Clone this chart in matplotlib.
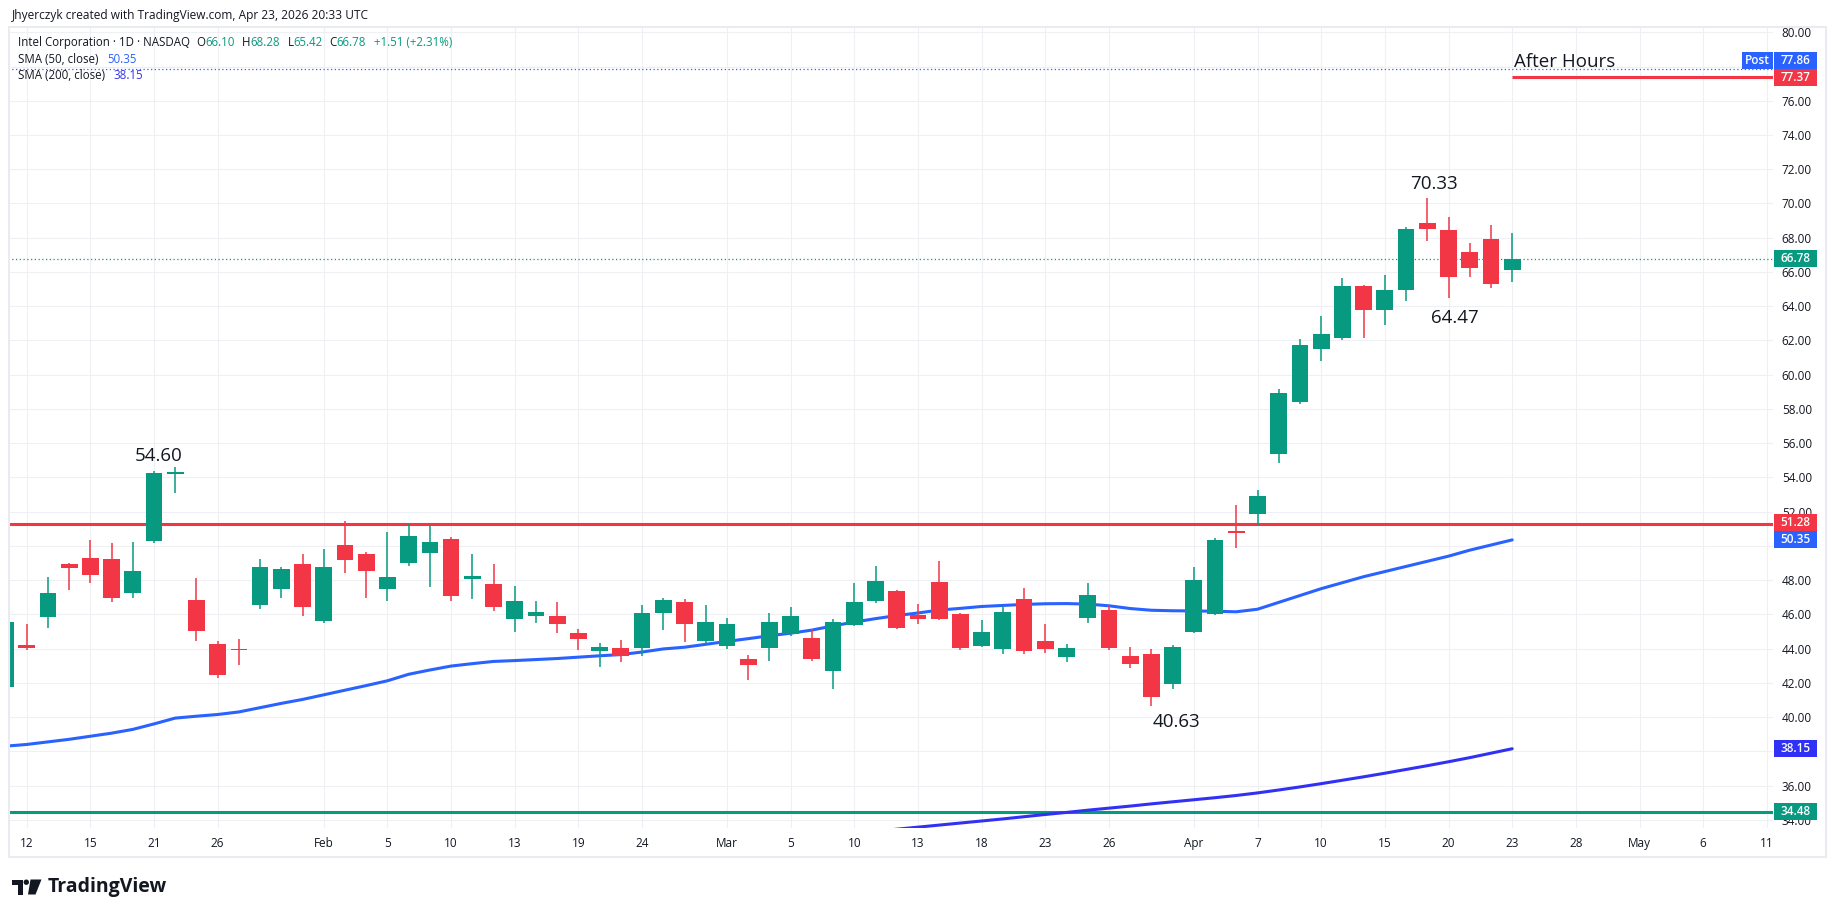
import numpy as np
import pandas as pd
import matplotlib
matplotlib.use("Agg")
import matplotlib.pyplot as plt
from matplotlib.patches import Rectangle, Circle, Polygon

plt.rcParams['font.family'] = ['Open Sans', 'DejaVu Sans']

W, H = 1835, 917
VERDE = '#089981'
ROJO = '#f23645'
AZUL = '#2962ff'
AZUL200 = '#3131f5'
TEXTO = '#131722'

# Calendario (NASDAQ, 2026)
inicio = '2026-01-09'
fin_eje = '2026-05-11'
festivos = ['2026-01-19', '2026-02-16', '2026-04-03']

# Velas diarias 9 ene -> 23 abr
open_ = [41.76, 44.23, 45.82, 48.96, 49.31, 49.25, 47.22, 50.26, 54.20, 46.85,
         44.28, 43.95, 46.52, 47.50, 48.96, 45.59, 50.07, 49.54, 47.50, 49.02,
         49.56, 50.42, 48.04, 47.79, 45.71, 45.88, 45.92, 44.93, 43.84, 44.05,
         44.01, 46.06, 46.74, 44.42, 44.13, 43.41, 44.01, 44.83, 44.64, 42.67,
         45.36, 46.76, 47.38, 45.94, 47.91, 46.04, 44.13, 43.95, 46.91, 44.46,
         43.49, 45.77, 46.27, 43.58, 43.70, 41.91, 44.95, 46.00, 50.89, 51.84,
         55.34, 58.38, 61.48, 62.12, 65.20, 63.75, 64.92, 68.88, 68.47, 67.18,
         67.94, 66.10]
high = [45.65, 45.45, 48.20, 48.98, 50.36, 50.18, 50.24, 54.39, 54.60, 48.14,
        44.46, 44.54, 49.25, 48.78, 49.54, 49.83, 51.47, 49.66, 50.83, 51.29,
        51.20, 50.54, 49.54, 48.96, 47.67, 46.80, 46.74, 45.16, 44.34, 44.52,
        46.56, 46.97, 46.91, 46.56, 45.80, 43.64, 46.09, 46.45, 45.16, 45.75,
        47.85, 48.84, 47.44, 46.62, 49.13, 46.06, 45.69, 46.50, 47.56, 45.45,
        44.29, 47.85, 46.56, 44.11, 43.99, 44.23, 48.78, 50.48, 52.40, 53.28,
        59.18, 62.10, 63.40, 65.66, 65.25, 65.84, 68.64, 70.33, 69.23, 67.71,
        68.76, 68.28]
low = [41.70, 43.90, 45.22, 47.40, 47.81, 46.70, 46.97, 50.15, 53.06, 44.42,
       42.26, 43.06, 46.33, 46.97, 45.92, 45.47, 48.43, 46.97, 46.80, 48.84,
       47.58, 46.76, 46.87, 46.17, 44.95, 45.47, 44.89, 43.90, 42.90, 43.19,
       43.55, 45.06, 44.36, 44.25, 43.95, 42.14, 43.25, 44.71, 43.25, 41.62,
       45.30, 46.64, 45.15, 45.42, 45.68, 43.90, 44.07, 43.66, 43.66, 43.72,
       43.19, 45.47, 43.90, 42.84, 40.63, 41.62, 44.90, 45.95, 49.85, 51.22,
       54.82, 58.30, 60.78, 62.05, 62.12, 62.88, 64.28, 67.79, 64.47, 65.68,
       65.04, 65.42]
close = [45.53, 44.01, 47.26, 48.69, 48.28, 46.93, 48.55, 54.27, 54.33, 45.00,
         42.43, 43.92, 48.78, 48.66, 46.41, 48.78, 49.19, 48.55, 48.20, 50.59,
         50.24, 47.05, 48.26, 46.41, 46.80, 46.16, 45.42, 44.54, 44.11, 43.55,
         46.09, 46.86, 45.42, 45.57, 45.45, 43.02, 45.57, 45.92, 43.37, 45.57,
         46.74, 47.97, 45.18, 45.71, 45.71, 44.01, 44.99, 46.16, 43.84, 43.95,
         44.05, 47.15, 44.01, 43.08, 41.15, 44.11, 48.02, 50.36, 50.73, 52.93,
         58.93, 61.75, 62.39, 65.20, 63.75, 64.96, 68.52, 68.49, 65.68, 66.21,
         65.27, 66.78]

# Medias moviles
sma50 = [38.30, 38.40, 38.55, 38.70, 38.88, 39.06, 39.28, 39.60, 39.94, 40.05,
         40.15, 40.30, 40.55, 40.80, 41.03, 41.30, 41.57, 41.84, 42.12, 42.50,
         42.75, 42.98, 43.12, 43.25, 43.30, 43.36, 43.42, 43.50, 43.58, 43.65,
         43.80, 43.98, 44.08, 44.25, 44.42, 44.58, 44.75, 44.90, 45.08, 45.33,
         45.55, 45.75, 45.93, 46.08, 46.25, 46.35, 46.46, 46.52, 46.58, 46.62,
         46.63, 46.60, 46.50, 46.34, 46.24, 46.21, 46.20, 46.18, 46.15, 46.30,
         46.70, 47.10, 47.50, 47.85, 48.20, 48.50, 48.80, 49.10, 49.40, 49.75,
         50.05, 50.35]
sma200_desde = '2026-03-11'
sma200 = [33.33, 33.45, 33.57, 33.69, 33.81, 33.93, 34.05, 34.18, 34.31, 34.43,
          34.56, 34.68, 34.80, 34.93, 35.05, 35.17, 35.29, 35.42, 35.57, 35.74,
          35.92, 36.11, 36.31, 36.51, 36.72, 36.94, 37.16, 37.39, 37.63, 37.89,
          38.15]

# Niveles dibujados
resistencia = 51.28
soporte = 34.48
after_hours = 77.37
post = 77.86

# Etiquetas del eje de fechas
tick_fechas = ['2026-01-12', '2026-01-15', '2026-01-21', '2026-01-26', '2026-02-02',
               '2026-02-05', '2026-02-10', '2026-02-13', '2026-02-19', '2026-02-24',
               '2026-03-02', '2026-03-05', '2026-03-10', '2026-03-13', '2026-03-18',
               '2026-03-23', '2026-03-26', '2026-04-01', '2026-04-07', '2026-04-10',
               '2026-04-15', '2026-04-20', '2026-04-23', '2026-04-28', '2026-05-01',
               '2026-05-06', '2026-05-11']
tick_textos = ['12', '15', '21', '26', 'Feb', '5', '10', '13', '19', '24', 'Mar', '5',
               '10', '13', '18', '23', '26', 'Apr', '7', '10', '15', '20', '23', '28',
               'May', '6', '11']

# Anotaciones de maximos / minimos: (fecha, campo, desplazamiento x, desplazamiento y)
anotaciones = [('2026-01-22', 'high', -0.77, 0.65),
               ('2026-04-17', 'high', 0.3, 0.81),
               ('2026-04-20', 'low', 0.3, -1.16),
               ('2026-03-30', 'low', 1.2, -0.92)]

# --- posiciones en el calendario ---
dias = pd.bdate_range(inicio, fin_eje)
dias = dias[~dias.isin(pd.to_datetime(festivos))]
pos = {d: i for i, d in enumerate(dias)}

o = np.array(open_); h = np.array(high); l = np.array(low); c = np.array(close)
x = np.arange(len(c))
cols = np.where(c >= o, VERDE, ROJO)

fig = plt.figure(figsize=(W / 100, H / 100), dpi=100)
fig.patch.set_facecolor('white')

ax = fig.add_axes([8 / W, (H - 828) / H, 1765 / W, 801 / H])
ax.set_facecolor('white')
for s in ax.spines.values():
    s.set_visible(False)
ax.set_xlim(0.12, 83.29)
ax.set_ylim(33.52, 80.31)

# etiquetas del eje de precios (cajas de color)
cajas = [(post, AZUL), (after_hours, ROJO), (c[-1], VERDE), (resistencia, ROJO),
         (sma50[-1], AZUL), (sma200[-1], AZUL200), (soporte, VERDE)]
alto = 0.99
centros = [v for v, _ in cajas]
for k in range(len(centros) - 2, -1, -1):
    if centros[k] - centros[k + 1] < alto:
        centros[k] = centros[k + 1] + alto

# rejilla y ticks (se ocultan los precios tapados por las cajas)
yt = np.arange(34, 81, 2)
ax.set_yticks(yt)
ax.set_yticklabels(['' if min(abs(v - cc) for cc in centros) < 0.45 else f'{v:.2f}'
                    for v in yt])
ax.yaxis.tick_right()
ax.set_xticks([pos[pd.Timestamp(d)] for d in tick_fechas])
ax.set_xticklabels(tick_textos)
ax.tick_params(axis='y', length=0, pad=6.3, labelsize=8.5, labelcolor=TEXTO)
ax.tick_params(axis='x', length=0, pad=6.5, labelsize=8.5, labelcolor=TEXTO)
ax.grid(True, color='#eef0f3', lw=0.8)
ax.set_axisbelow(True)

# lineas horizontales
ax.axhline(post, color=AZUL, lw=0.9, ls=(0, (1, 2)), zorder=2)
ax.axhline(c[-1], color=VERDE, lw=0.9, ls=(0, (1, 2)), zorder=2)
ax.axhline(resistencia, color=ROJO, lw=2.2, zorder=2)
ax.axhline(soporte, color=VERDE, lw=2.2, zorder=2)
ax.hlines(after_hours, x[-1], 83.29, color=ROJO, lw=2.2, zorder=2)

# medias
ax.plot(x, sma50, color=AZUL, lw=2.2, zorder=3, solid_capstyle='round')
x200 = np.arange(pos[pd.Timestamp(sma200_desde)], pos[pd.Timestamp(sma200_desde)] + len(sma200))
ax.plot(x200, sma200, color=AZUL200, lw=2.2, zorder=3, solid_capstyle='round')

# velas
ax.vlines(x, l, h, colors=cols, lw=1.1, zorder=4)
cuerpo = np.maximum(np.abs(c - o), 0.08)
ax.bar(x, cuerpo, bottom=np.minimum(o, c), width=0.79, color=cols, zorder=5, lw=0)

# anotaciones
campos = {'high': h, 'low': l}
for f, campo, dx, dy in anotaciones:
    i = pos[pd.Timestamp(f)]
    v = campos[campo][i]
    ax.text(i + dx, v + dy, f'{v:.2f}', ha='center', va='center',
            fontsize=13.5, color=TEXTO, zorder=6)
ax.text(x[-1] + 0.1, after_hours + 0.92, 'After Hours', ha='left', va='center',
        fontsize=13.5, color=TEXTO, zorder=6)

ytr = ax.get_yaxis_transform()
x0, ancho = 1.0006, 0.0244
for (v, col), yc in zip(cajas, centros):
    ax.add_patch(Rectangle((x0, yc - alto / 2), ancho, alto, transform=ytr,
                           facecolor=col, edgecolor='none', clip_on=False, zorder=10))
    ax.text(x0 + ancho / 2, yc, f'{v:.2f}', transform=ytr, ha='center', va='center',
            fontsize=8.5, color='white', fontweight='semibold', clip_on=False, zorder=11)
ax.add_patch(Rectangle((0.9824, centros[0] - alto / 2), 0.0176, alto, transform=ytr,
                       facecolor=AZUL, edgecolor='none', clip_on=False, zorder=10))
ax.text(0.9912, centros[0], 'Post', transform=ytr, ha='center', va='center',
        fontsize=8.5, color='white', fontweight='semibold', clip_on=False, zorder=11)

# --- capa de decoracion en pixeles ---
deco = fig.add_axes([0, 0, 1, 1], zorder=20)
deco.set_xlim(0, W)
deco.set_ylim(H, 0)
deco.axis('off')
deco.patch.set_alpha(0)
deco.add_patch(Rectangle((8.5, 27), 1817, 830, fill=False, edgecolor='#e9ebf0', lw=1.5))

deco.text(11.5, 15, 'Jhyerczyk created with TradingView.com, Apr 23, 2026 20:33 UTC',
          fontsize=8.6, color=TEXTO, va='center')

fila = 42.7
deco.text(18, fila, 'Intel Corporation · 1D · NASDAQ', fontsize=8.3, color=TEXTO, va='center')
ohlc = [('O', 196.3, o[-1]), ('H', 242.3, h[-1]), ('L', 287.4, l[-1]), ('C', 329.1, c[-1])]
for letra, px, v in ohlc:
    t = deco.text(px, fila, letra, fontsize=8.3, color=TEXTO, va='center')
    deco.annotate(f'{v:.2f}', xy=(1, 0.5), xycoords=t, va='center', fontsize=8.3, color=VERDE)
cambio = c[-1] - c[-2]
deco.text(373.9, fila, f'+{cambio:.2f} (+{cambio / c[-2] * 100:.2f}%)', fontsize=8.3,
          color=VERDE, va='center')
deco.text(18, 59.3, 'SMA (50, close)', fontsize=8.3, color=TEXTO, va='center')
deco.text(107.2, 59.3, f'{sma50[-1]:.2f}', fontsize=8.3, color=AZUL, va='center')
deco.text(18, 75.3, 'SMA (200, close)', fontsize=8.3, color=TEXTO, va='center')
deco.text(113.7, 75.3, f'{sma200[-1]:.2f}', fontsize=8.3, color=AZUL200, va='center')

# logo TradingView
deco.add_patch(Polygon([(12, 879.5), (22.5, 879.5), (22.5, 894.5), (17.5, 894.5),
                        (17.5, 884.5), (12, 884.5)], closed=True, color=TEXTO, lw=0))
deco.add_patch(Circle((26.3, 882.2), 2.7, color=TEXTO, lw=0))
deco.add_patch(Polygon([(30.5, 879.5), (41.5, 879.5), (35.5, 894.5), (28, 894.5)],
                       closed=True, color=TEXTO, lw=0))
deco.text(48, 887, 'TradingView', fontsize=14, fontweight='bold', color=TEXTO, va='center')

fig.savefig('out.png', dpi=100, facecolor='white')
